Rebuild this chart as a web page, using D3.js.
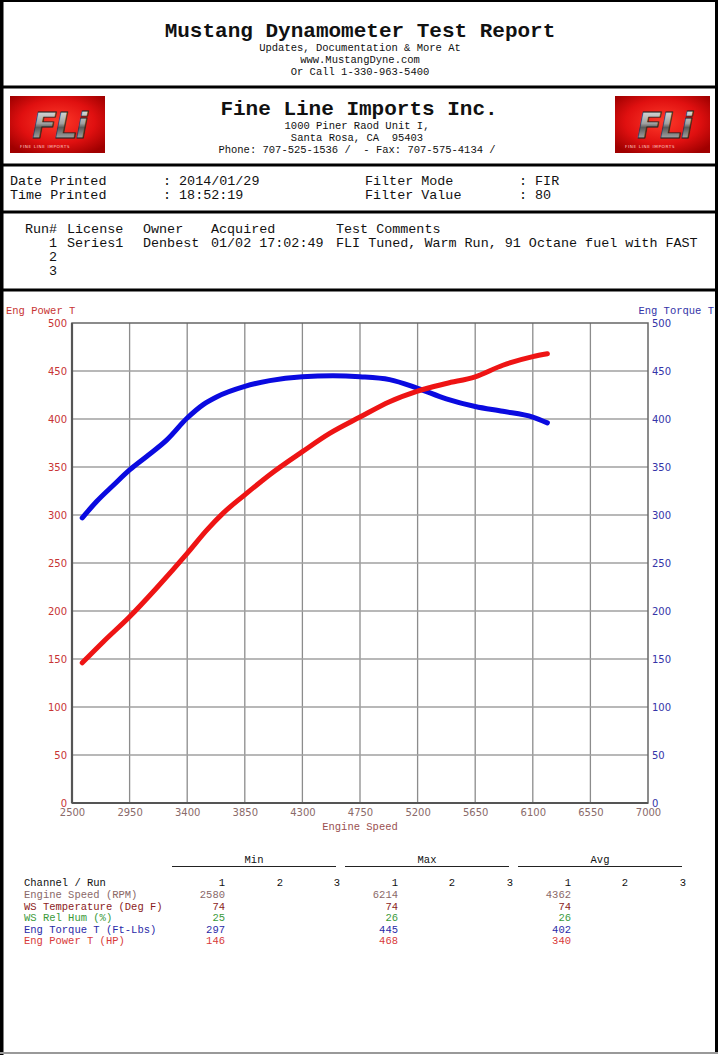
<!DOCTYPE html>
<html>
<head>
<meta charset="utf-8">
<script src="https://cdn.jsdelivr.net/npm/d3@7"></script>
<style>
  html, body { margin: 0; padding: 0; background: #fff; }
  svg { display: block; }
  text { white-space: pre; }
  .mono { font-family: "Courier New", "Liberation Mono", monospace; }
</style>
</head>
<body>
<svg id="page" width="718" height="1055"></svg>
<script>
// ---------------- data ----------------
const torqueRpm = [2580, 2692, 2823, 2950, 3083, 3239, 3400, 3525, 3629, 3850, 4045, 4300, 4539, 4750, 4981, 5200, 5424, 5650, 5866, 6100, 6214];
const torqueVal = [297, 314, 331, 347, 361, 378, 401, 415, 423, 434, 440, 444, 445, 444, 441, 432, 421, 413, 408, 402, 396];
const powerRpm  = [2580, 2745, 2950, 3161, 3400, 3551, 3681, 3850, 4045, 4300, 4513, 4750, 4981, 5200, 5424, 5650, 5866, 6100, 6214];
const powerVal  = [146, 168, 194, 224, 260, 284, 302, 321, 342, 366, 385, 402, 418, 429, 437, 444, 456, 465, 468];

const xTicks = [2500, 2950, 3400, 3850, 4300, 4750, 5200, 5650, 6100, 6550, 7000];
const yTicks = [0, 50, 100, 150, 200, 250, 300, 350, 400, 450, 500];

const headerLines = ["Updates, Documentation & More At", "www.MustangDyne.com", "Or Call 1-330-963-5400"];
const companyLines = ["1000 Piner Raod Unit I,", "Santa Rosa, CA  95403", "Phone: 707-525-1536 /  - Fax: 707-575-4134 /"];

const runHeader = ["Run#", "License", "Owner", "Acquired", "Test Comments"];
const runRow1 = ["1", "Series1", "Denbest", "01/02 17:02:49", "FLI Tuned, Warm Run, 91 Octane fuel with FAST"];
const runNumbers = ["2", "3"];

const statGroups = ["Min", "Max", "Avg"];
const statChannels = ["Engine Speed (RPM)", "WS Temperature (Deg F)", "WS Rel Hum (%)", "Eng Torque T (Ft-Lbs)", "Eng Power T (HP)"];
const statMin = [2580, 74, 25, 297, 146];
const statMax = [6214, 74, 26, 445, 468];
const statAvg = [4362, 74, 26, 402, 340];
const statColors = ["#8a6868", "#8b1c1c", "#3a9a3a", "#2a2aa8", "#d83a3a"];

// ---------------- page ----------------
const svg = d3.select("#page");
const W = 718, H = 1055;

svg.append("rect").attr("x", 0).attr("y", 0).attr("width", W).attr("height", H).attr("fill", "#fff");
svg.append("line").attr("x1", 1.5).attr("x2", 1.5).attr("y1", 0).attr("y2", H).attr("stroke", "#000").attr("stroke-width", 4);
svg.append("line").attr("x1", W - 1.5).attr("x2", W - 1.5).attr("y1", 0).attr("y2", H - 3).attr("stroke", "#000").attr("stroke-width", 3);
svg.append("line").attr("x1", 0).attr("x2", W).attr("y1", 1).attr("y2", 1).attr("stroke", "#000").attr("stroke-width", 2);
svg.append("line").attr("x1", 0).attr("x2", W).attr("y1", H - 2).attr("y2", H - 2).attr("stroke", "#999").attr("stroke-width", 2);
[87, 165, 212, 290].forEach(y => {
  svg.append("line").attr("x1", 0).attr("x2", W).attr("y1", y).attr("y2", y).attr("stroke", "#000").attr("stroke-width", 3);
});

function mtext(x, y, t, opts = {}) {
  return svg.append("text").attr("class", "mono").attr("x", x).attr("y", y)
    .attr("font-size", opts.fs || 13.4).attr("text-anchor", opts.anchor || "start")
    .attr("font-weight", opts.bold ? "bold" : "normal")
    .attr("fill", opts.fill || "#111").text(t);
}

// header
mtext(360, 37, "Mustang Dynamometer Test Report", { fs: 21, bold: true, anchor: "middle" });
headerLines.forEach((t, i) => mtext(360, 51 + i * 12, t, { fs: 10.5, anchor: "middle" }));

// company
mtext(359, 115, "Fine Line Imports Inc.", { fs: 21, bold: true, anchor: "middle" });
companyLines.forEach((t, i) => mtext(357, 129 + i * 12, t, { fs: 10.5, anchor: "middle" }));

// logos
const defs = svg.append("defs");
const rg = defs.append("radialGradient").attr("id", "logoRed").attr("cx", "50%").attr("cy", "45%").attr("r", "65%");
rg.append("stop").attr("offset", "0%").attr("stop-color", "#ff3a2a");
rg.append("stop").attr("offset", "60%").attr("stop-color", "#e01010");
rg.append("stop").attr("offset", "100%").attr("stop-color", "#a00000");
const cg = defs.append("linearGradient").attr("id", "chrome").attr("x1", 0).attr("y1", 0).attr("x2", 0).attr("y2", 1);
cg.append("stop").attr("offset", "0%").attr("stop-color", "#f4f4f4");
cg.append("stop").attr("offset", "45%").attr("stop-color", "#a0a0a0");
cg.append("stop").attr("offset", "55%").attr("stop-color", "#5a5a5a");
cg.append("stop").attr("offset", "100%").attr("stop-color", "#d8d8d8");

function logo(x0) {
  const g = svg.append("g").attr("transform", `translate(${x0},96)`);
  g.append("rect").attr("width", 95).attr("height", 57).attr("fill", "url(#logoRed)");
  g.append("text").attr("x", 49).attr("y", 42).attr("text-anchor", "middle")
    .attr("font-family", "'DejaVu Sans', sans-serif").attr("font-weight", "bold").attr("font-style", "italic")
    .attr("font-size", 36).attr("fill", "url(#chrome)").attr("stroke", "#222").attr("stroke-width", 0.8)
    .attr("letter-spacing", -2).text("FLi");
  g.append("text").attr("x", 10).attr("y", 52).attr("font-family", "'DejaVu Sans', sans-serif")
    .attr("font-size", 4.2).attr("fill", "#ffd0c8").attr("letter-spacing", 0.6).text("FINE LINE IMPORTS");
}
logo(10);
logo(615);

// info
mtext(10, 185, "Date Printed"); mtext(163, 185, ": 2014/01/29");
mtext(365, 185, "Filter Mode"); mtext(519, 185, ": FIR");
mtext(10, 199, "Time Printed"); mtext(163, 199, ": 18:52:19");
mtext(365, 199, "Filter Value"); mtext(519, 199, ": 80");

const runCols = [25, 67, 143, 211, 336];
runHeader.forEach((t, i) => mtext(runCols[i], 233, t));
runRow1.forEach((t, i) => {
  if (i === 0) mtext(57, 247, t, { anchor: "end" });
  else mtext(runCols[i], 247, t);
});
runNumbers.forEach((t, i) => mtext(57, 261 + i * 14, t, { anchor: "end" }));

// ---------------- chart ----------------
const x = d3.scaleLinear().domain([2500, 7000]).range([72, 648]);
const y = d3.scaleLinear().domain([0, 500]).range([803, 323]);

const grid = svg.append("g");
grid.selectAll("line.v").data(xTicks.slice(1, -1)).join("line")
  .attr("x1", d => x(d)).attr("x2", d => x(d)).attr("y1", y(500)).attr("y2", y(0))
  .attr("stroke", "#8c8c8c").attr("stroke-width", 1.3);
grid.selectAll("line.h").data(yTicks.slice(1, -1)).join("line")
  .attr("x1", x(2500)).attr("x2", x(7000)).attr("y1", d => y(d)).attr("y2", d => y(d))
  .attr("stroke", "#a0a0a0").attr("stroke-width", 1.3);
svg.append("rect").attr("x", x(2500)).attr("y", y(500)).attr("width", x(7000) - x(2500)).attr("height", y(0) - y(500))
  .attr("fill", "none").attr("stroke", "#666").attr("stroke-width", 1.5);
svg.append("line").attr("x1", x(2500)).attr("x2", x(2500)).attr("y1", y(500)).attr("y2", y(0)).attr("stroke", "#555").attr("stroke-width", 2.2);
svg.append("line").attr("x1", x(2500)).attr("x2", x(7000)).attr("y1", y(0)).attr("y2", y(0)).attr("stroke", "#555").attr("stroke-width", 2.2);

function styleAxis(g, color) {
  g.select(".domain").remove();
  g.selectAll(".tick line").remove();
  g.selectAll("text").attr("fill", color).attr("font-family", "'DejaVu Sans', Verdana, sans-serif").attr("font-size", 10);
}
svg.append("g").attr("transform", `translate(${x(2500)},0)`)
  .call(d3.axisLeft(y).tickValues(yTicks).tickSize(0).tickPadding(5))
  .call(g => styleAxis(g, "#c83434"));
svg.append("g").attr("transform", `translate(${x(7000)},0)`)
  .call(d3.axisRight(y).tickValues(yTicks).tickSize(0).tickPadding(4))
  .call(g => styleAxis(g, "#3434a8"));
svg.append("g").attr("transform", `translate(0,${y(0)})`)
  .call(d3.axisBottom(x).tickValues(xTicks).tickSize(0).tickPadding(6).tickFormat(d3.format("d")))
  .call(g => styleAxis(g, "#8a6a6a"));

mtext(6, 314, "Eng Power T", { fs: 10.5, fill: "#c83434" });
mtext(714, 314, "Eng Torque T", { fs: 10.5, fill: "#3434a8", anchor: "end" });
mtext(360, 830, "Engine Speed", { fs: 10.5, fill: "#9a5050", anchor: "middle" });

const line = d3.line().x(d => x(d[0])).y(d => y(d[1])).curve(d3.curveMonotoneX);
svg.append("path").datum(torqueRpm.map((r, i) => [r, torqueVal[i]])).attr("d", line)
  .attr("fill", "none").attr("stroke", "#0a0ae0").attr("stroke-width", 5).attr("stroke-linejoin", "round").attr("stroke-linecap", "round");
svg.append("path").datum(powerRpm.map((r, i) => [r, powerVal[i]])).attr("d", line)
  .attr("fill", "none").attr("stroke", "#ee1414").attr("stroke-width", 5).attr("stroke-linejoin", "round").attr("stroke-linecap", "round");

// ---------------- stats table ----------------
const groupSpans = [[172, 336], [345, 509], [518, 682]];
const colEnds = [[225, 283, 340], [398, 455, 513], [571, 628, 686]];
statGroups.forEach((t, i) => {
  const [a, b] = groupSpans[i];
  mtext((a + b) / 2, 863, t, { fs: 10.5, anchor: "middle" });
  svg.append("line").attr("x1", a).attr("x2", b).attr("y1", 866.5).attr("y2", 866.5).attr("stroke", "#222").attr("stroke-width", 1.2);
});
mtext(24, 886, "Channel / Run", { fs: 10.5 });
colEnds.forEach(cols => cols.forEach((cx, j) => mtext(cx, 886, String(j + 1), { fs: 10.5, anchor: "end" })));
statChannels.forEach((t, i) => {
  const yy = 898 + i * 11.6;
  mtext(24, yy, t, { fs: 10.5, fill: statColors[i] });
  mtext(colEnds[0][0], yy, String(statMin[i]), { fs: 10.5, fill: statColors[i], anchor: "end" });
  mtext(colEnds[1][0], yy, String(statMax[i]), { fs: 10.5, fill: statColors[i], anchor: "end" });
  mtext(colEnds[2][0], yy, String(statAvg[i]), { fs: 10.5, fill: statColors[i], anchor: "end" });
});
</script>
</body>
</html>
